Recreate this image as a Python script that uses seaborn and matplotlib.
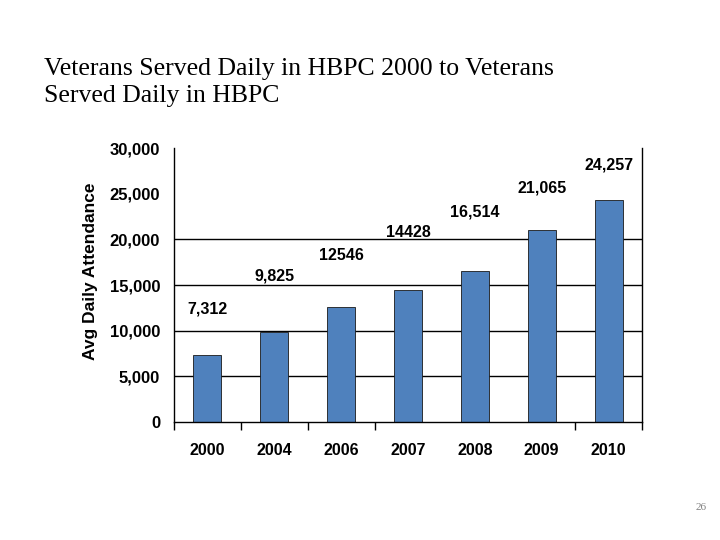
import numpy as np
import pandas as pd
import matplotlib
matplotlib.use("Agg")
import matplotlib.pyplot as plt
import seaborn as sns

# data
years = ["2000", "2004", "2006", "2007", "2008", "2009", "2010"]
attendance = [7312, 9825, 12546, 14428, 16514, 21065, 24257]
bar_labels = ["7,312", "9,825", "12546", "14428", "16,514", "21,065", "24,257"]
label_heights = [12400, 16000, 18200, 20700, 23000, 25600, 28150]
y_ticks = [0, 5000, 10000, 15000, 20000, 25000, 30000]
grid_lines = [5000, 10000, 15000, 20000]
# boundary ticks drawn on the original (two are missing there)
x_boundaries = [-0.5, 0.5, 1.5, 2.5, 5.5, 6.5]

df = pd.DataFrame({"year": years, "attendance": attendance})

sns.set_style("white")
plt.rcParams["font.family"] = ["Liberation Sans", "DejaVu Sans"]
plt.rcParams["text.color"] = "black"

fig = plt.figure(figsize=(7.2, 5.4), dpi=100)
ax = fig.add_axes([0.2417, 0.2185, 0.65, 0.5074])

for g in grid_lines:
    ax.axhline(g, color="black", linewidth=1.0, zorder=0)

sns.barplot(data=df, x="year", y="attendance", color="#4F81BD",
            width=0.42, saturation=1, edgecolor="#1a1a1a", linewidth=0.6,
            ax=ax, zorder=2)

for i, (lab, h) in enumerate(zip(bar_labels, label_heights)):
    ax.text(i, h, lab, ha="center", va="center", fontsize=11.5,
            fontweight="bold", color="black")

ax.set_ylim(0, 30000)
ax.set_xlim(-0.5, len(years) - 0.5)
ax.set_yticks(y_ticks)
ax.set_yticklabels([f"{t:,}" for t in y_ticks], fontsize=12, fontweight="bold",
                   color="black")
ax.set_xticks(range(len(years)))
ax.set_xticklabels(years, fontsize=11.5, fontweight="bold", color="black")
ax.set_xticks(x_boundaries, minor=True)
ax.tick_params(axis="x", which="major", length=0, pad=15)
ax.tick_params(axis="x", which="minor", length=6, width=1, direction="out",
               color="black", bottom=True)
ax.tick_params(axis="y", length=0, pad=10)
ax.set_xlabel("")
ax.set_ylabel("Avg Daily Attendance", fontsize=12.5, fontweight="bold",
              color="black")
ax.yaxis.set_label_coords(-0.162, 0.551)

for side in ["left", "bottom", "right"]:
    ax.spines[side].set_visible(True)
    ax.spines[side].set_color("black")
    ax.spines[side].set_linewidth(1.0)
ax.spines["top"].set_visible(False)

fig.text(0.061, 0.893, "Veterans Served Daily in HBPC 2000 to Veterans\nServed Daily in HBPC",
         family=["Liberation Serif", "DejaVu Serif"], fontsize=18.5, va="top",
         ha="left", linespacing=1.3, color="black")
fig.text(0.982, 0.061, "26", family=["Liberation Serif", "DejaVu Serif"],
         fontsize=8, color="#808080", ha="right", va="center")

fig.savefig("out.png", dpi=100)
